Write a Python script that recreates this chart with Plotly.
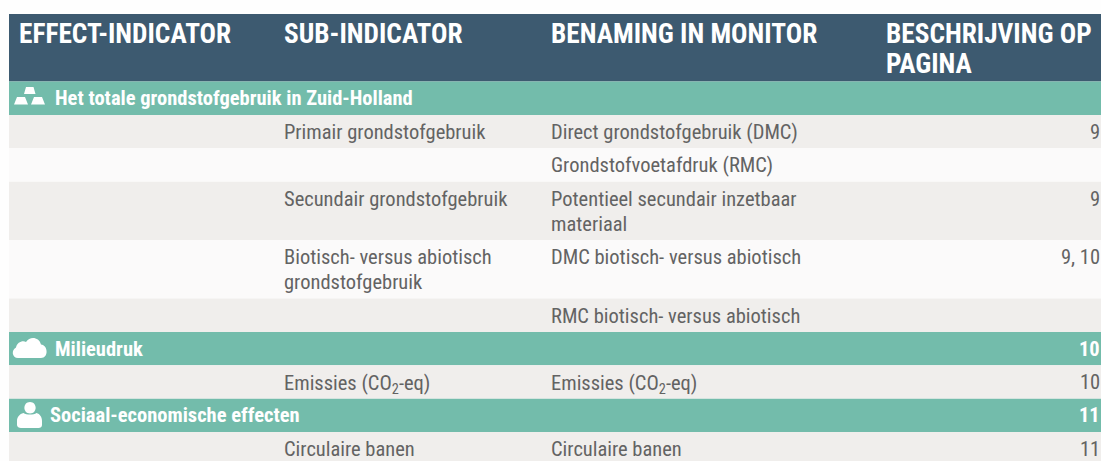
import plotly.graph_objects as go

HEADERS = ["EFFECT-INDICATOR", "SUB-INDICATOR", "BENAMING IN MONITOR", "BESCHRIJVING OP<br>PAGINA"]

ROW_KIND = ["group", "row", "row", "row", "row", "row", "group", "row", "group", "row"]
COL_EFFECT = ["Het totale grondstofgebruik in Zuid-Holland", "", "", "", "", "", "Milieudruk", "", "Sociaal-economische effecten", ""]
COL_SUB = ["", "Primair grondstofgebruik", "", "Secundair grondstofgebruik",
           "Biotisch- versus abiotisch<br>grondstofgebruik", "", "", "Emissies (CO<sub>2</sub>-eq)", "", "Circulaire banen"]
COL_NAME = ["", "Direct grondstofgebruik (DMC)", "Grondstofvoetafdruk (RMC)",
            "Potentieel secundair inzetbaar<br>materiaal", "DMC biotisch- versus abiotisch",
            "RMC biotisch- versus abiotisch", "", "Emissies (CO<sub>2</sub>-eq)", "", "Circulaire banen"]
COL_PAGE = ["", "9", "", "9", "9, 10", "", "10", "10", "11", "11"]

W, H = 1101, 461
LEFT = 9
TOP = 14
HEAD_H = 67.5
ROW_H = 33.4
EXTRA_LINE = 25
COLX = [17, 282, 549, 884]
RIGHT = 1100
NAVY, TEAL, GRAY, LIGHT = "#3d5a70", "#73bcab", "#f0eeec", "#fbfafa"
FONT = "Roboto Condensed, Liberation Sans Narrow, Roboto, sans-serif"
BODY = "#636363"
HEAD_SIZE, GROUP_SIZE, BODY_SIZE = 27.3, 20.5, 20.5

shapes, ann = [], []

def band(y0, y1, color):
    shapes.append(dict(type="rect", x0=LEFT, x1=W, y0=y0, y1=y1, fillcolor=color, line_width=0, layer="below"))

def text(x, y, s, size, color, bold=False, anchor="left", step=EXTRA_LINE):
    for i, part in enumerate(s.split("<br>")):
        sub = "<sub>" in part
        ann.append(dict(x=x, y=y + i * step + (2.5 if sub else 0), text=f"<b>{part}</b>" if bold else part,
                        xanchor=anchor, yanchor="middle", showarrow=False, align=anchor,
                        xshift=2 if anchor == "right" else 0,
                        font=dict(family=FONT, size=size, color=color), xref="x", yref="y"))

band(TOP, TOP + HEAD_H, NAVY)
for x, h in zip(COLX, HEADERS):
    text(x, 34, h, HEAD_SIZE, "white", True, step=30)

y = TOP + HEAD_H
shade = True
for kind, a, b, c, p in zip(ROW_KIND, COL_EFFECT, COL_SUB, COL_NAME, COL_PAGE):
    lines = max(b.count("<br>"), c.count("<br>")) + 1
    h = ROW_H + EXTRA_LINE * (lines - 1)
    if kind == "group":
        band(y, y + h, TEAL)
        tx = 48 if a.startswith("Sociaal") else 53
        text(tx, y + h / 2, a, GROUP_SIZE, "white", True)
        if p:
            text(RIGHT, y + h / 2, p, GROUP_SIZE, "white", True, "right")
        shade = True
    else:
        band(y, y + h, GRAY if shade else LIGHT)
        shade = not shade
        ty = y + 17
        if b:
            text(COLX[1], ty, b, BODY_SIZE, BODY)
        if c:
            text(COLX[2], ty, c, BODY_SIZE, BODY)
        if p:
            text(RIGHT, ty, p, BODY_SIZE, BODY, anchor="right")
    y += h

def icon(path):
    shapes.append(dict(type="path", path=path, fillcolor="white", line_width=0, layer="above"))

# gold bars
icon("M26,87 L33.5,87 L35.5,94 L24,94 Z M17,97 L25,97 L28,104.5 L14,104.5 Z M34,97 L42,97 L45,104.5 L31,104.5 Z")
# cloud
icon("M18,358 C12,358 11,350 16,347.5 C17,342 23,340 26,342 C30,336 39,337 41,344.5 "
     "C48,345 49,358 41,358 Z")
# person
icon("M30,402 C37.5,402 37.5,413.5 30,413.5 C22.5,413.5 22.5,402 30,402 Z")
icon("M23.5,413 C26.5,415 33.5,415 36.5,413 C40,414 42,417 42,421 L42,425 C42,427 40.5,428 38.5,428 "
     "L21,428 C19,428 17,427 17,425 L17,421 C17,417 19.5,414 23.5,413 Z")

fig = go.Figure()
fig.update_layout(width=W, height=H, margin=dict(l=0, r=0, t=0, b=0), paper_bgcolor="#fefefe", plot_bgcolor="#fefefe",
                  xaxis=dict(range=[0, W], visible=False, fixedrange=True),
                  yaxis=dict(range=[H, 0], visible=False, fixedrange=True),
                  shapes=shapes, annotations=ann, showlegend=False)
fig.write_html("out.html", config=dict(displayModeBar=False, responsive=False),
               post_script="document.body.style.margin='0';document.body.style.overflow='hidden';")
